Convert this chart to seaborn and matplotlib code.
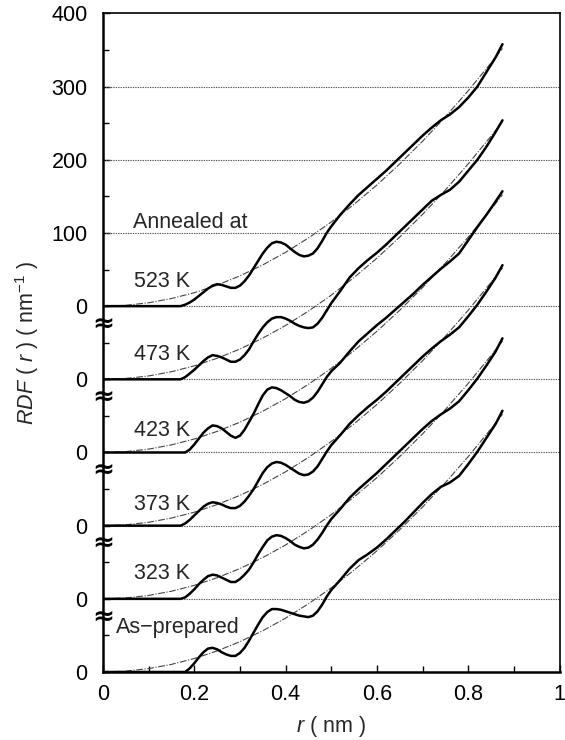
import numpy as np
import pandas as pd
import matplotlib
matplotlib.use("Agg")
import matplotlib.pyplot as plt
import seaborn as sns

# ---------------- data ----------------
R = [0.00, 0.05, 0.10, 0.15, 0.17, 0.18, 0.19, 0.20, 0.21, 0.22, 0.23, 0.24,
     0.25, 0.26, 0.27, 0.28, 0.29, 0.30, 0.31, 0.32, 0.33, 0.34, 0.35, 0.36,
     0.37, 0.38, 0.39, 0.40, 0.41, 0.42, 0.43, 0.44, 0.45, 0.46, 0.47, 0.48,
     0.49, 0.50, 0.52, 0.54, 0.56, 0.58, 0.60, 0.62, 0.64, 0.66, 0.68, 0.70,
     0.72, 0.74, 0.76, 0.78, 0.80, 0.82, 0.84, 0.86, 0.875]

RDF_523K = [0, 0, 0, 0, 0, 2, 5, 9, 14, 19, 24, 28,
            30, 29, 27, 25, 25, 28, 34, 42, 52, 62, 72, 80,
            86, 88, 87, 84, 79, 74, 70, 68, 69, 72, 79, 89,
            100, 109, 125, 139, 152, 163, 174, 185, 197, 209, 221, 233,
            244, 254, 262, 272, 285, 300, 320, 340, 358]

RDF_473K = [0, 0, 0, 0, 0, 3, 8, 13, 19, 25, 30, 33,
            32, 30, 27, 24, 24, 27, 33, 41, 52, 62, 71, 78,
            83, 85, 85, 83, 80, 76, 73, 71, 70, 71, 76, 84,
            94, 104, 121, 139, 152, 163, 173, 184, 196, 208, 220, 232,
            244, 252, 259, 270, 285, 300, 318, 338, 354]

RDF_423K = [0, 0, 0, 0, 0, 0, 4, 11, 19, 27, 33, 37,
            36, 33, 28, 23, 20, 23, 31, 42, 53, 66, 78, 86,
            89, 88, 85, 81, 77, 72, 69, 68, 70, 75, 83, 93,
            103, 111, 123, 138, 152, 163, 174, 184, 195, 206, 217, 229,
            240, 251, 261, 272, 290, 308, 325, 343, 357]

RDF_373K = [0, 0, 0, 0, 0, 3, 8, 14, 20, 26, 30, 32,
            31, 29, 26, 24, 24, 27, 33, 41, 50, 61, 72, 80,
            85, 87, 86, 83, 79, 75, 71, 69, 70, 74, 81, 91,
            101, 110, 124, 139, 151, 162, 172, 183, 195, 207, 219, 231,
            242, 252, 261, 271, 286, 302, 320, 339, 356]

RDF_323K = [0, 0, 0, 0, 0, 2, 7, 13, 20, 26, 31, 33,
            32, 29, 26, 23, 23, 27, 33, 40, 50, 61, 71, 80,
            85, 87, 86, 83, 79, 74, 71, 69, 70, 74, 81, 90,
            100, 109, 123, 138, 150, 161, 172, 184, 196, 208, 220, 232,
            243, 252, 260, 270, 285, 301, 319, 338, 356]

RDF_ASPREP = [0, 0, 0, 0, 0, 0, 5, 12, 20, 27, 32, 33,
              31, 27, 24, 22, 22, 26, 33, 43, 54, 65, 75, 82,
              86, 86, 85, 83, 81, 79, 77, 76, 75, 77, 83, 92,
              103, 112, 126, 141, 153, 161, 170, 181, 193, 205, 218, 231,
              243, 253, 259, 268, 284, 301, 320, 339, 357]

# average density line 4*pi*r^2*rho0
R_PAR = [0.00, 0.05, 0.10, 0.15, 0.20, 0.25, 0.30, 0.35, 0.40, 0.45, 0.50,
         0.55, 0.60, 0.65, 0.70, 0.75, 0.80, 0.85, 0.875]
PARABOLA = [0, 1.2, 4.6, 10.4, 18.4, 28.8, 41.4, 56.4, 73.6, 93.2, 115,
            139.2, 165.6, 194.4, 225.4, 258.8, 294.4, 332.4, 352.2]

SERIES_NAMES = ["523 K", "473 K", "423 K", "373 K", "323 K", "As-prepared"]
SERIES_VALUES = [RDF_523K, RDF_473K, RDF_423K, RDF_373K, RDF_323K, RDF_ASPREP]
HEADER = "Annealed at"

YTICK_VALUES = [-500, -400, -300, -200, -100, 0, 100, 200, 300, 400]
YTICK_LABELS = ["0", "0", "0", "0", "0", "0", "100", "200", "300", "400"]
XTICK_VALUES = [0, 0.2, 0.4, 0.6, 0.8, 1.0]
XTICK_LABELS = ["0", "0.2", "0.4", "0.6", "0.8", "1"]

# layout: vertical shift of each stacked curve
OFFSETS = [0, -100, -200, -300, -400, -500]

# ---------------- style ----------------
sns.set_theme(style="white")
plt.rcParams["font.family"] = ["Liberation Sans", "DejaVu Sans"]
plt.rcParams["mathtext.fontset"] = "custom"
plt.rcParams["mathtext.rm"] = "Liberation Sans"
plt.rcParams["mathtext.it"] = "Liberation Sans:italic"

fig = plt.figure(figsize=(5.65, 7.4), dpi=100)
ax = fig.add_axes([0.1823, 0.0919, 0.9903 - 0.1823, 0.9818 - 0.0919])

# dotted grid at every 100
for yv in YTICK_VALUES[:-1]:
    ax.axhline(yv, color="#555555", lw=0.8, ls=(0, (1.2, 1.0)), zorder=1)

for name, vals, off in zip(SERIES_NAMES, SERIES_VALUES, OFFSETS):
    par = pd.DataFrame({"r": R_PAR, "y": np.array(PARABOLA) + off})
    sns.lineplot(data=par, x="r", y="y", ax=ax, color="#444444", lw=0.8,
                 ls=(0, (6, 1.5, 1, 1.5)), zorder=2, estimator=None)
    df = pd.DataFrame({"r": R, "y": np.array(vals) + off})
    sns.lineplot(data=df, x="r", y="y", ax=ax, color="black", lw=1.8,
                 zorder=3, estimator=None)

ax.set_xlim(0, 1)
ax.set_ylim(-500, 400)

ax.set_yticks(YTICK_VALUES)
ax.set_yticklabels(YTICK_LABELS)
ax.set_yticks(np.arange(-450, 400, 100), minor=True)
ax.set_xticks(XTICK_VALUES)
ax.set_xticklabels(XTICK_LABELS)
ax.set_xticks(np.arange(0.1, 1.0, 0.2), minor=True)

ax.tick_params(axis="both", which="major", direction="in", length=5,
               width=1.0, labelsize=15.5, color="black", labelcolor="black")
ax.tick_params(axis="both", which="minor", direction="in", length=4,
               width=1.0, color="black")
ax.tick_params(axis="y", which="both", left=True, right=False, pad=11)
ax.tick_params(axis="x", which="both", bottom=True, top=False, pad=9)

for side in ["left", "bottom"]:
    ax.spines[side].set_linewidth(1.8)
    ax.spines[side].set_color("black")
for side in ["top", "right"]:
    ax.spines[side].set_linewidth(1.2)
    ax.spines[side].set_color("black")

ax.set_xlabel("$r$ ( nm )", fontsize=15.5, labelpad=6)
ax.set_ylabel("$RDF$ ( $r$ ) ( nm$^{-1}$ )", fontsize=15.5)
ax.yaxis.set_label_coords(-0.135, 0.5)

# axis break marks just below each stacked zero
for off in OFFSETS[:-1]:
    ax.text(0.0, off - 24, "\u2248", transform=ax.get_yaxis_transform(),
            ha="center", va="center", fontsize=19, fontweight="bold",
            color="black", clip_on=False, zorder=5,
            family=["DejaVu Sans"])

# series labels
ax.text(0.065, 107, HEADER, fontsize=15.5, ha="left", va="baseline")
label_y = [26, -74, -177, -279, -373, -447]
for name, ly in zip(SERIES_NAMES, label_y):
    lx = 0.028 if name == "As-prepared" else 0.068
    ax.text(lx, ly, name.replace("-", "\u2212"), fontsize=15.5, ha="left",
            va="baseline")

fig.savefig("out.png", dpi=100)
